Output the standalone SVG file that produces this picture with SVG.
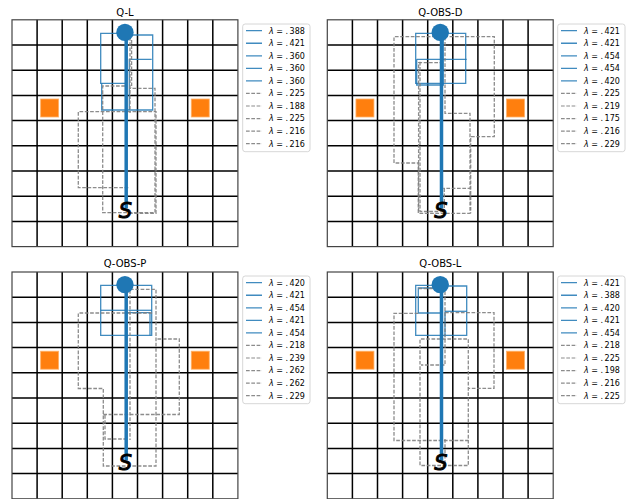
<svg xmlns="http://www.w3.org/2000/svg" xmlns:xlink="http://www.w3.org/1999/xlink" width="629" height="499" viewBox="0 0 629 499">
<style>
.gl{fill:none;stroke:#000;stroke-width:1.5}
.fr{fill:none;stroke:#444;stroke-width:1.2}
.obs{fill:#ff7f0e;stroke:#ffb26b;stroke-width:0.8}
.goal{fill:#1f77b4}
.bt{fill:none;stroke:#1f77b4;stroke-opacity:0.85;stroke-width:1.3}
.gd{fill:none;stroke:#7f7f7f;stroke-opacity:0.9;stroke-width:1.3;stroke-dasharray:3.7 1.6}
.thick{fill:none;stroke:#1f77b4;stroke-width:3.5}
.st{font-family:"DejaVu Sans",sans-serif;font-style:italic;font-size:21px;text-anchor:middle;fill:#000;stroke:#000;stroke-width:0.9}
.ttl{font-family:"DejaVu Sans",sans-serif;font-size:10px;text-anchor:middle;fill:#000}
.lg{font-family:"DejaVu Sans",sans-serif;font-size:8px;fill:#000}
.lbox{fill:#fff;fill-opacity:0.8;stroke:#ccc;stroke-width:0.8}
.lb{stroke:#1f77b4;stroke-opacity:0.85;stroke-width:1.3}
.ld{stroke:#7f7f7f;stroke-opacity:0.9;stroke-width:1.2;stroke-dasharray:3.7 1.6}
</style>
<defs>
<g id="grid">
<path class="gl" d="M25.1,0V226.8M50.2,0V226.8M75.3,0V226.8M100.4,0V226.8M125.5,0V226.8M150.6,0V226.8M175.7,0V226.8M200.8,0V226.8M0,25.2H225.9M0,50.4H225.9M0,75.6H225.9M0,100.8H225.9M0,126H225.9M0,151.2H225.9M0,176.4H225.9M0,201.6H225.9"/>
<rect class="fr" x="0" y="0" width="225.9" height="226.8"/>
<rect class="obs" x="28.65" y="79.2" width="18" height="18"/>
<rect class="obs" x="179.25" y="79.2" width="18" height="18"/>
</g>
<g id="top">
<line class="thick" x1="114.2" y1="12.6" x2="114.2" y2="188.5"/>
<circle class="goal" cx="112.95" cy="12.6" r="8.7"/>
<text class="st" x="113.5" y="197.8">S</text>
</g>
<g id="lgbase">
<rect class="lbox" x="242.7" y="24" width="67.3" height="127.7" rx="2.5"/>
<path class="lb" d="M246,30.7H262M246,43.25H262M246,55.8H262M246,68.35H262M246,80.9H262"/>
<path class="ld" d="M246,93.45H262M246,106H262M246,118.55H262M246,131.1H262M246,143.65H262"/>
</g>
</defs>

<g id="panel-QL">
<text class="ttl" x="125" y="15.5">Q-L</text>
<use xlink:href="#grid" transform="translate(12,19.8)"/>
<g id="paths-QL">
<path class="bt" d="M125,33.3H100.7V83.3H125"/>
<path class="bt" d="M101.7,83.3V110H152.7V35H131.7"/>
<path class="bt" d="M129.3,110V59.3H151.7"/>
<path class="gd" d="M125,86H102.7V212.7H155V88.3H129.3"/>
<path class="gd" d="M128.3,187.7H78.3V111.7H156V213.3H128"/>
<path class="gd" d="M130,37V113"/>
<path class="gd" d="M131.6,40V88"/>
</g>
<use xlink:href="#top" transform="translate(12,19.8)"/>
<g id="legend-QL">
<use xlink:href="#lgbase"/>
<text class="lg" x="269" y="33.6"><tspan font-style="italic">λ</tspan> = .<tspan dx="1.5">388</tspan></text>
<text class="lg" x="269" y="46.15"><tspan font-style="italic">λ</tspan> = .<tspan dx="1.5">421</tspan></text>
<text class="lg" x="269" y="58.7"><tspan font-style="italic">λ</tspan> = .<tspan dx="1.5">360</tspan></text>
<text class="lg" x="269" y="71.25"><tspan font-style="italic">λ</tspan> = .<tspan dx="1.5">360</tspan></text>
<text class="lg" x="269" y="83.8"><tspan font-style="italic">λ</tspan> = .<tspan dx="1.5">360</tspan></text>
<text class="lg" x="269" y="96.35"><tspan font-style="italic">λ</tspan> = .<tspan dx="1.5">225</tspan></text>
<text class="lg" x="269" y="108.9"><tspan font-style="italic">λ</tspan> = .<tspan dx="1.5">188</tspan></text>
<text class="lg" x="269" y="121.45"><tspan font-style="italic">λ</tspan> = .<tspan dx="1.5">225</tspan></text>
<text class="lg" x="269" y="134"><tspan font-style="italic">λ</tspan> = .<tspan dx="1.5">216</tspan></text>
<text class="lg" x="269" y="146.55"><tspan font-style="italic">λ</tspan> = .<tspan dx="1.5">216</tspan></text>
</g>
</g>

<g id="panel-QOBSD">
<text class="ttl" x="440.3" y="15.5">Q-OBS-D</text>
<use xlink:href="#grid" transform="translate(327.3,19.8)"/>
<g id="paths-QOBSD">
<path class="bt" d="M440,33.3H415.7V83.3H465.7V33.3H440"/>
<path class="bt" d="M416.7,59.3H466.7"/>
<path class="bt" d="M443.3,33.3V85H416.7V59.3"/>
<path class="gd" d="M441,36.7H394V163H418.3V213.3H470V188.3H443.3"/>
<path class="gd" d="M443.3,62.7H418.6V212"/>
<path class="gd" d="M420,61.7V211.5H444"/>
<path class="gd" d="M444.3,36.7H494.3V136.7H470.7V213.3"/>
<path class="gd" d="M445,36.7V113.3H470V188"/>
<path class="gd" d="M444.3,188.3V212"/>
</g>
<use xlink:href="#top" transform="translate(327.3,19.8)"/>
<g id="legend-QOBSD">
<use xlink:href="#lgbase" transform="translate(315,0)"/>
<text class="lg" x="584" y="33.6"><tspan font-style="italic">λ</tspan> = .<tspan dx="1.5">421</tspan></text>
<text class="lg" x="584" y="46.15"><tspan font-style="italic">λ</tspan> = .<tspan dx="1.5">421</tspan></text>
<text class="lg" x="584" y="58.7"><tspan font-style="italic">λ</tspan> = .<tspan dx="1.5">454</tspan></text>
<text class="lg" x="584" y="71.25"><tspan font-style="italic">λ</tspan> = .<tspan dx="1.5">454</tspan></text>
<text class="lg" x="584" y="83.8"><tspan font-style="italic">λ</tspan> = .<tspan dx="1.5">420</tspan></text>
<text class="lg" x="584" y="96.35"><tspan font-style="italic">λ</tspan> = .<tspan dx="1.5">225</tspan></text>
<text class="lg" x="584" y="108.9"><tspan font-style="italic">λ</tspan> = .<tspan dx="1.5">219</tspan></text>
<text class="lg" x="584" y="121.45"><tspan font-style="italic">λ</tspan> = .<tspan dx="1.5">175</tspan></text>
<text class="lg" x="584" y="134"><tspan font-style="italic">λ</tspan> = .<tspan dx="1.5">216</tspan></text>
<text class="lg" x="584" y="146.55"><tspan font-style="italic">λ</tspan> = .<tspan dx="1.5">229</tspan></text>
</g>
</g>

<g id="panel-QOBSP">
<text class="ttl" x="125" y="267.3">Q-OBS-P</text>
<use xlink:href="#grid" transform="translate(12,272)"/>
<g id="paths-QOBSP">
<path class="bt" d="M125,285.3H100.7V335.3H151.7V285.3H125"/>
<path class="bt" d="M100.7,310.3H126.7"/>
<path class="bt" d="M128.5,310.3H151.7"/>
<path class="bt" d="M126,312.7H150V335.3"/>
<path class="gd" d="M130,289.3H156V466H103.3V388.5H78.3V313H153.3"/>
<path class="gd" d="M103.3,414.5H179.3V339H156"/>
<path class="gd" d="M105,415V439H128.3"/>
<path class="gd" d="M130,290V440"/>
</g>
<use xlink:href="#top" transform="translate(12,272)"/>
<g id="legend-QOBSP">
<use xlink:href="#lgbase" transform="translate(0,252)"/>
<text class="lg" x="269" y="285.6"><tspan font-style="italic">λ</tspan> = .<tspan dx="1.5">420</tspan></text>
<text class="lg" x="269" y="298.15"><tspan font-style="italic">λ</tspan> = .<tspan dx="1.5">421</tspan></text>
<text class="lg" x="269" y="310.7"><tspan font-style="italic">λ</tspan> = .<tspan dx="1.5">454</tspan></text>
<text class="lg" x="269" y="323.25"><tspan font-style="italic">λ</tspan> = .<tspan dx="1.5">421</tspan></text>
<text class="lg" x="269" y="335.8"><tspan font-style="italic">λ</tspan> = .<tspan dx="1.5">454</tspan></text>
<text class="lg" x="269" y="348.35"><tspan font-style="italic">λ</tspan> = .<tspan dx="1.5">218</tspan></text>
<text class="lg" x="269" y="360.9"><tspan font-style="italic">λ</tspan> = .<tspan dx="1.5">239</tspan></text>
<text class="lg" x="269" y="373.45"><tspan font-style="italic">λ</tspan> = .<tspan dx="1.5">262</tspan></text>
<text class="lg" x="269" y="386"><tspan font-style="italic">λ</tspan> = .<tspan dx="1.5">262</tspan></text>
<text class="lg" x="269" y="398.55"><tspan font-style="italic">λ</tspan> = .<tspan dx="1.5">229</tspan></text>
</g>
</g>

<g id="panel-QOBSL">
<text class="ttl" x="440.3" y="267.3">Q-OBS-L</text>
<use xlink:href="#grid" transform="translate(327.3,272)"/>
<g id="paths-QOBSL">
<path class="bt" d="M440,285.3H415.7V335.3H466.7V286H445"/>
<path class="bt" d="M440,288H418.3V313H442"/>
<path class="bt" d="M445,311.3H466.7"/>
<path class="bt" d="M445,311.3V336.5"/>
<path class="gd" d="M418.3,288.5H443.3"/>
<path class="gd" d="M445,286V365H421"/>
<path class="gd" d="M418.3,313.3H394V440.5H468.3V339H420V465.5H468.3V440"/>
<path class="gd" d="M445,312.7H494V388.3H469"/>
<path class="gd" d="M445,439V465"/>
</g>
<use xlink:href="#top" transform="translate(327.3,272)"/>
<g id="legend-QOBSL">
<use xlink:href="#lgbase" transform="translate(315,252)"/>
<text class="lg" x="584" y="285.6"><tspan font-style="italic">λ</tspan> = .<tspan dx="1.5">421</tspan></text>
<text class="lg" x="584" y="298.15"><tspan font-style="italic">λ</tspan> = .<tspan dx="1.5">388</tspan></text>
<text class="lg" x="584" y="310.7"><tspan font-style="italic">λ</tspan> = .<tspan dx="1.5">420</tspan></text>
<text class="lg" x="584" y="323.25"><tspan font-style="italic">λ</tspan> = .<tspan dx="1.5">421</tspan></text>
<text class="lg" x="584" y="335.8"><tspan font-style="italic">λ</tspan> = .<tspan dx="1.5">454</tspan></text>
<text class="lg" x="584" y="348.35"><tspan font-style="italic">λ</tspan> = .<tspan dx="1.5">218</tspan></text>
<text class="lg" x="584" y="360.9"><tspan font-style="italic">λ</tspan> = .<tspan dx="1.5">225</tspan></text>
<text class="lg" x="584" y="373.45"><tspan font-style="italic">λ</tspan> = .<tspan dx="1.5">198</tspan></text>
<text class="lg" x="584" y="386"><tspan font-style="italic">λ</tspan> = .<tspan dx="1.5">216</tspan></text>
<text class="lg" x="584" y="398.55"><tspan font-style="italic">λ</tspan> = .<tspan dx="1.5">225</tspan></text>
</g>
</g>
</svg>
